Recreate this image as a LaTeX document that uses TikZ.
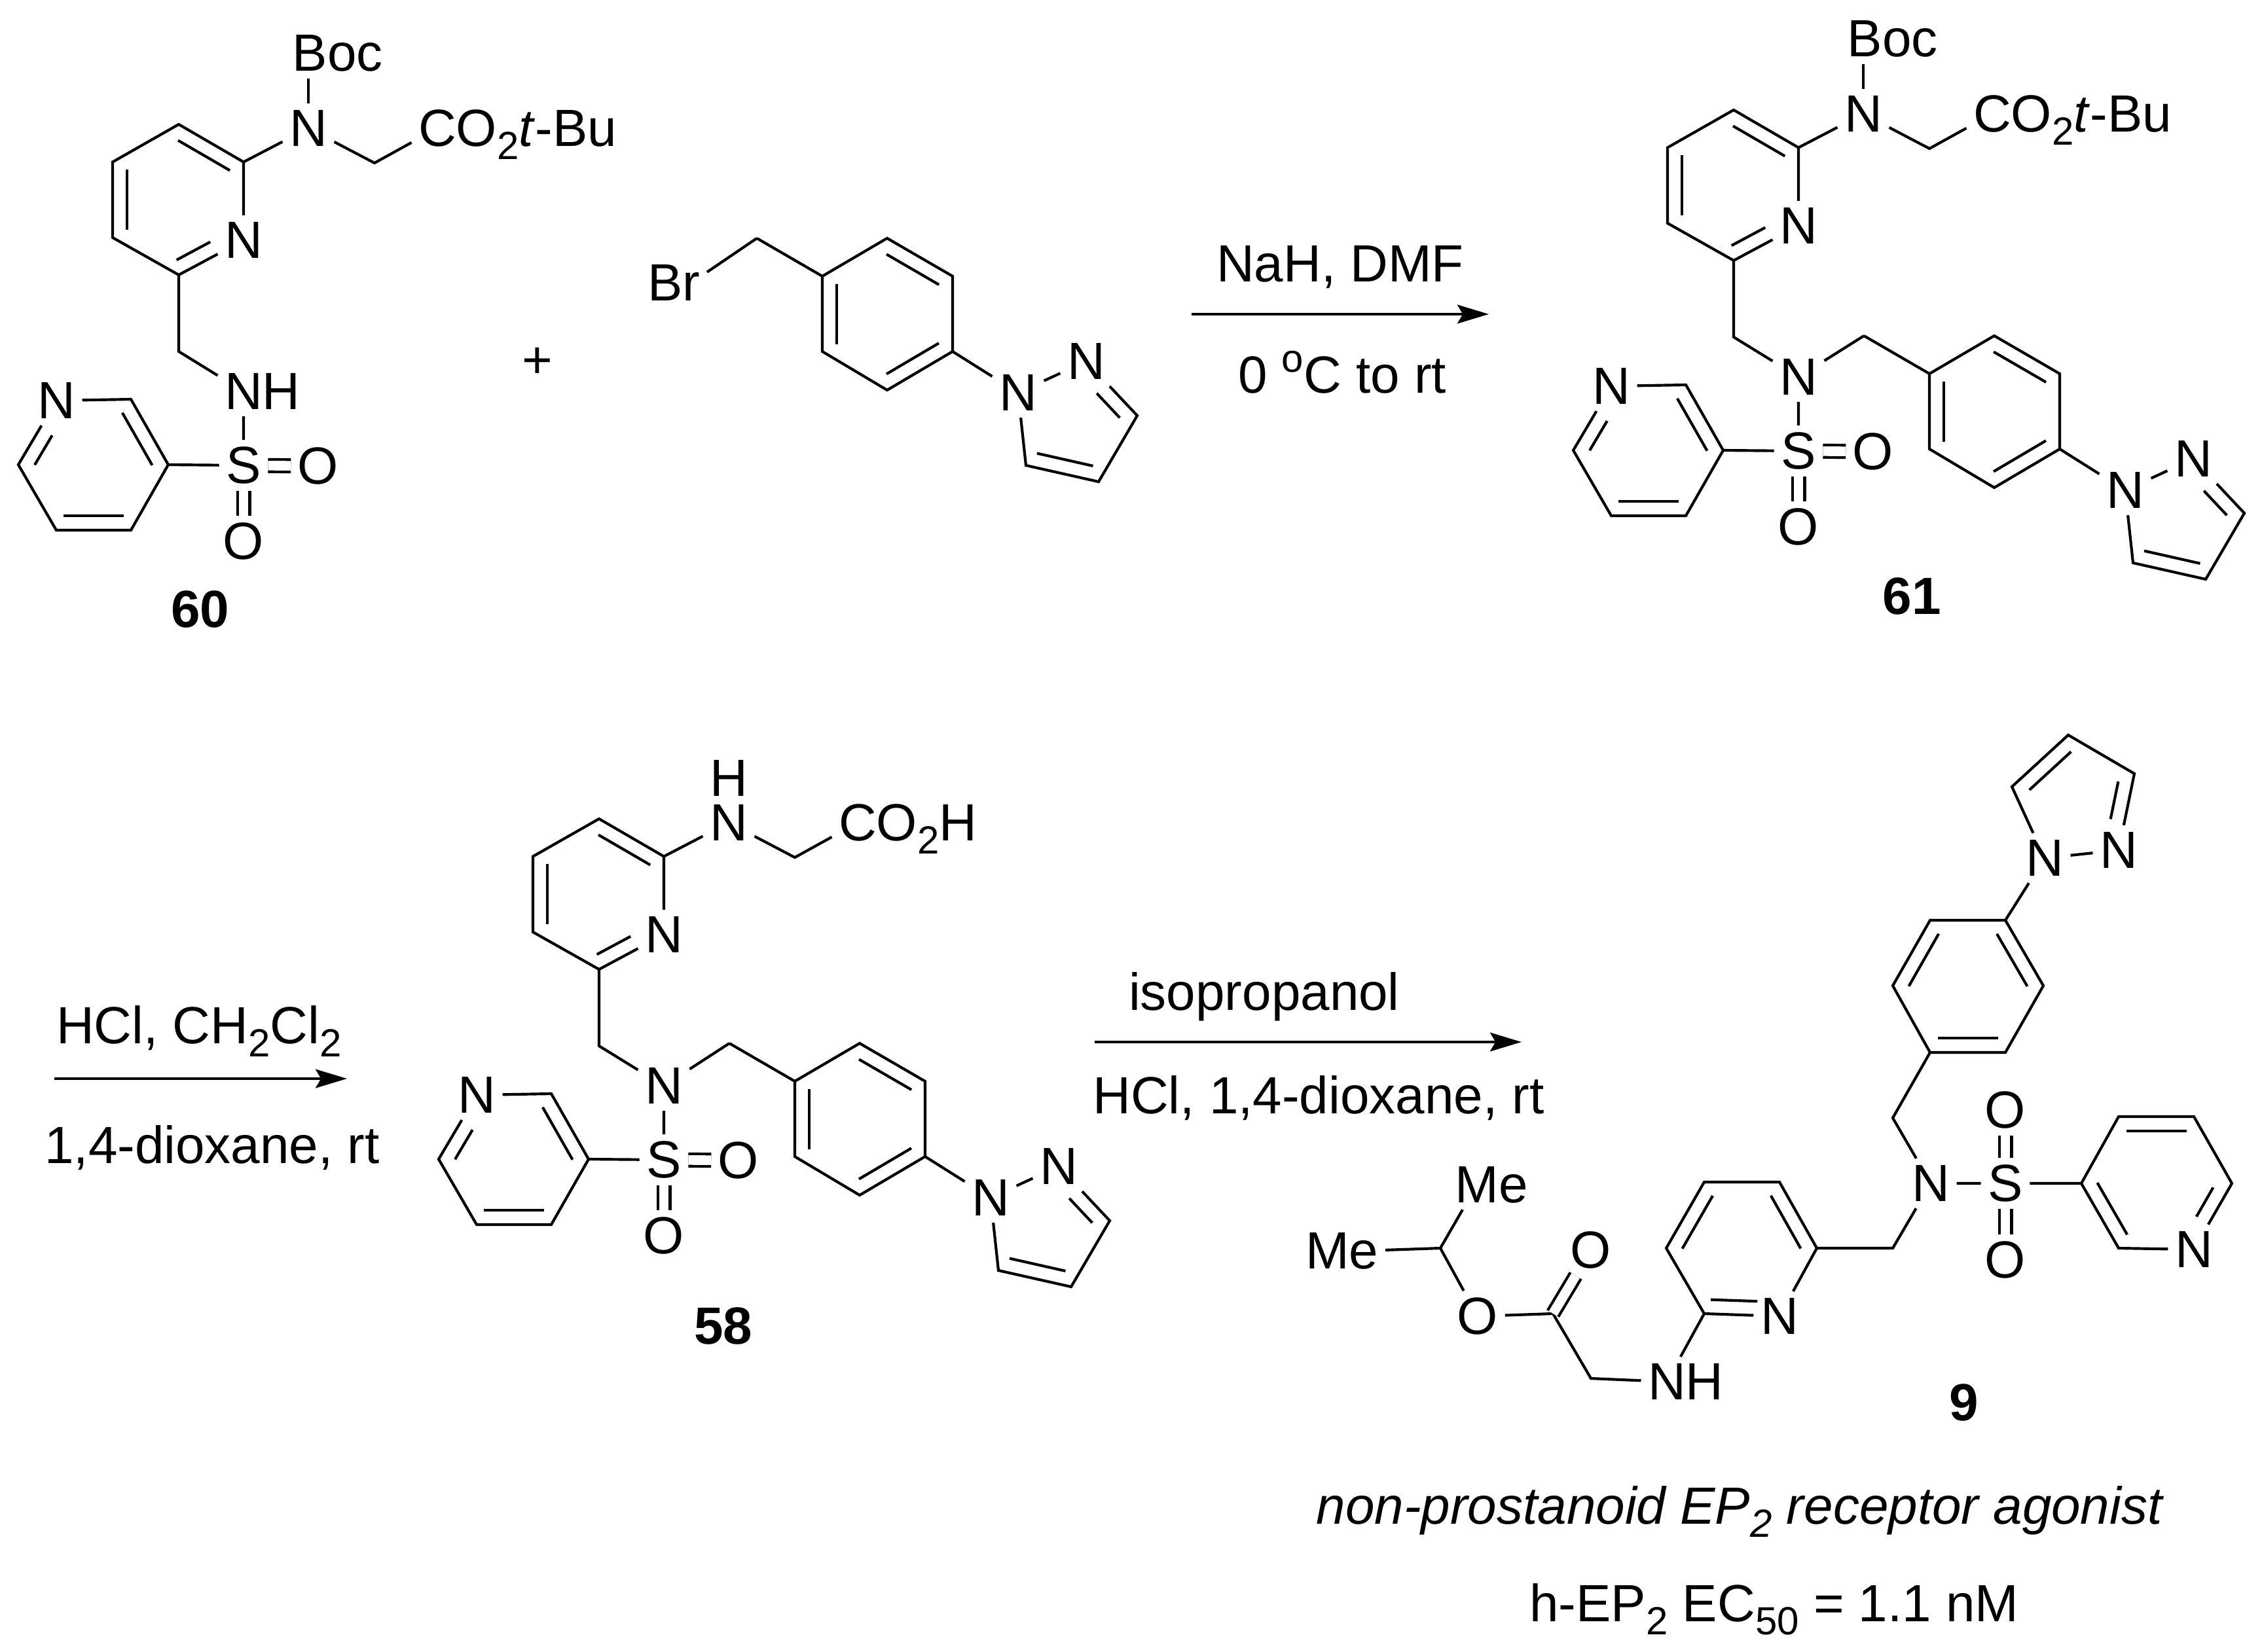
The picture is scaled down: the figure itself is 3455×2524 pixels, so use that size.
\documentclass[tikz,border=0pt]{standalone}
\usepackage{fontspec}
\setmainfont{Liberation Sans}
\usetikzlibrary{calc,arrows.meta}
\newcommand{\tailr}[1]{\smash{\rlap{#1}}}
\newcommand{\subnum}[1]{\raisebox{-6pt}{\fontsize{18}{18}\selectfont #1}}
\newcommand{\inbond}[4]{\draw[bond] ($(#1)!#3!(#2)!6.5pt!-90:(#2)$) -- ($(#1)!#4!(#2)!6.5pt!-90:(#2)$);}
\begin{document}
\begin{tikzpicture}[x=0.3pt,y=-0.3pt]
    \tikzstyle{atom}=[inner sep=3pt,font=\fontsize{24}{24}\selectfont]
    \tikzstyle{note}=[inner sep=0,anchor=base,font=\fontsize{24}{24}\selectfont]
    \tikzstyle{lab}=[inner sep=0,font=\fontsize{24}{24}\selectfont\bfseries]
    \tikzstyle{bond}=[line width=1.25pt]
    \tikzstyle{dbond}=[line width=1.25pt,double,double distance=4.4pt]
    \tikzstyle{rxn}=[line width=1.3pt,-{Stealth[length=14.4pt,width=8.6pt,inset=2.5pt]}]
    \useasboundingbox (0,0) rectangle (3455,2524);

    % pyridine, sulfonamide and side chain shared by 60, 61, 58
    \foreach \mol/\dx/\dy/\cen/\acid in {m60/0/0/{N\tailr{H}}/{C\tailr{O\subnum{2}\textit{t}-Bu}},
                                        m61/2375/-22/N/{C\tailr{O\subnum{2}\textit{t}-Bu}},
                                        m58/642/1061/N/{C\tailr{O\subnum{2}H}}} {
        \begin{scope}[shift={(\dx,\dy)},name prefix=\mol]
            \foreach \cn/\x/\y in {rt/273/190,rb/372/247.5,rd/273/420,rc/172/363,ra/172/247.5,
                                   gl/572/249,ch/273/537,
                                   sa/257/710,sb/200/610,sd/28/710,se/86/810,sf/200/810} {
                \coordinate (\cn) at (\x,\y);
            }
            \node[atom] (rN) at (372,367) {N};
            \node[atom] (am) at (471,196) {N};
            \node[atom] (acid) at (668,196) {\acid};
            \node[atom] (cen) at (372,598) {\cen};
            \node[atom] (sul) at (372,711) {S};
            \node[atom] (oa) at (486,712) {O};
            \node[atom] (ob) at (372,827) {O};
            \node[atom] (sN) at (86,612) {N};

            \draw[bond] (rN) -- (rb) -- (rt) -- (ra) -- (rc) -- (rd) -- (rN);
            \draw[bond] (rb) -- (am) (am) -- (gl) -- (acid) (rd) -- (ch) -- (cen) (cen) -- (sul) (sul) -- (sa);
            \draw[bond] (sN) -- (sb) -- (sa) -- (sf) -- (se) -- (sd) -- (sN);
            \draw[dbond] (sul) -- (oa);
            \draw[dbond] (sul) -- (ob);
            \inbond{rt}{rb}{.1}{.9}
            \inbond{rc}{ra}{.1}{.9}
            \inbond{rN}{rd}{.41}{.93}
            \inbond{sb}{sa}{.1}{.9}
            \inbond{sf}{se}{.1}{.9}
            \inbond{sd}{sN}{.11}{.57}
        \end{scope}
    }

    % Boc on 60 and 61
    \foreach \mol/\dx/\dy in {m60/0/0,m61/2375/-22} {
        \begin{scope}[shift={(\dx,\dy)},name prefix=\mol]
            \node[atom,anchor=west] (boc) at (436,81) {Boc};
            \draw[bond] (am) -- (boc.south -| am);
        \end{scope}
    }
    \node[atom] (m58H) at (1113,1189) {H};

    % benzyl and pyrazole
    \foreach \mol/\dx/\dy in {p0/0/0,p61/1691/149,p58/-42/1230} {
        \begin{scope}[shift={(\dx,\dy)},name prefix=\mol]
            \foreach \cn/\x/\y in {ch/1156/364,a/1256/422,b/1355/364,c/1455/422,d/1455/537,e/1355/596,f/1256/537,
                                   zc/1737/635,zd/1678/736,ze/1567/711} {
                \coordinate (\cn) at (\x,\y);
            }
            \node[atom] (zA) at (1555,600) {N};
            \node[atom] (zB) at (1659,552) {N};
            \draw[bond] (ch) -- (a) -- (b) -- (c) -- (d) -- (e) -- (f) -- (a);
            \draw[bond] (d) -- (zA) (zA) -- (zB) (zB) -- (zc) -- (zd) -- (ze) -- (zA);
            \inbond{b}{c}{.1}{.9}
            \inbond{d}{e}{.1}{.9}
            \inbond{f}{a}{.1}{.9}
            \inbond{zB}{zc}{.41}{.86}
            \inbond{zd}{ze}{.12}{.89}
        \end{scope}
    }
    \node[atom] (brm) at (1056,432) {\llap{B}r};
    \draw[bond] (brm) -- (p0ch);
    \draw[bond] (m61cen) -- (p61ch);
    \draw[bond] (m58cen) -- (p58ch);

    % compound 9
    \foreach \cn/\x/\y in {qd/3159/1123,qc/3260/1182,qe/3073/1202,
                           ba/3063/1406,bb/2948/1406,bc/2891/1506,bd/2948/1608,be/3063/1608,bf/3121/1506,
                           ua/2891/1708,ub/2891/1907,
                           ta/3179/1808,tb/3236/1706,tc/3351/1706,td/3409/1808,tf/3236/1907,
                           va/2775/1907,vb/2718/1806,vc/2603/1806,vd/2545/1907,ve/2603/2007,
                           gc/2430/2106,co/2372/2007,ip/2200/1907} {
        \coordinate (\cn) at (\x,\y);
    }
    \node[atom] (qA) at (3123,1311) {N};
    \node[atom] (qB) at (3236,1299) {N};
    \node[atom] (nc) at (2949,1808) {N};
    \node[atom] (sc) at (3063,1808) {S};
    \node[atom] (ou) at (3063,1696) {O};
    \node[atom] (od) at (3063,1925) {O};
    \node[atom] (tN) at (3351,1909) {N};
    \node[atom] (vN) at (2718,2011) {N};
    \node[atom] (nh) at (2546,2111) {N\tailr{H}};
    \node[atom] (oc) at (2430,1910) {O};
    \node[atom] (oe) at (2257,2011) {O};
    \node[atom] (mu) at (2256,1810) {M\tailr{e}};
    \node[atom] (ml) at (2083,1911) {\llap{M}e};

    \draw[bond] (qA) -- (qe) -- (qd) -- (qc) -- (qB) (qB) -- (qA) (qA) -- (ba);
    \draw[bond] (ba) -- (bb) -- (bc) -- (bd) -- (be) -- (bf) -- (ba);
    \draw[bond] (bd) -- (ua) -- (nc) (nc) -- (ub) -- (va) (nc) -- (sc) (sc) -- (ta);
    \draw[dbond] (sc) -- (ou);
    \draw[dbond] (sc) -- (od);
    \draw[bond] (ta) -- (tb) -- (tc) -- (td) -- (tN) (tN) -- (tf) -- (ta);
    \draw[bond] (va) -- (vb) -- (vc) -- (vd) -- (ve) -- (vN) (vN) -- (va) (ve) -- (nh);
    \draw[bond] (nh) -- (gc) -- (co) -- (oe) (oe) -- (ip) -- (mu) (ip) -- (ml);
    \draw[dbond] (co) -- (oc);
    \inbond{qe}{qd}{.14}{.88}
    \inbond{qc}{qB}{.14}{.63}
    \inbond{ba}{bf}{.1}{.9}
    \inbond{be}{bd}{.1}{.9}
    \inbond{bc}{bb}{.1}{.9}
    \inbond{tb}{tc}{.1}{.9}
    \inbond{td}{tN}{.17}{.61}
    \inbond{tf}{ta}{.1}{.9}
    \inbond{vb}{va}{.1}{.9}
    \inbond{vd}{vc}{.1}{.9}
    \inbond{vN}{ve}{.3}{.92}

    % reagents and arrows
    \node[lab] (plus) at (821,554) {\mdseries +};
    \coordinate (ar1a) at (1820,480);
    \coordinate (ar1b) at (2274,480);
    \coordinate (ar2a) at (83,1648);
    \coordinate (ar2b) at (530,1648);
    \coordinate (ar3a) at (1672,1592);
    \coordinate (ar3b) at (2324,1592);
    \draw[rxn] (ar1a) -- (ar1b);
    \draw[rxn] (ar2a) -- (ar2b);
    \draw[rxn] (ar3a) -- (ar3b);
    \node[note] (nah) at (2047,430) {NaH, DMF};
    \node[note] (tmp) at (2050,600) {0 \raisebox{9.5pt}{\fontsize{18}{18}\selectfont o}C to rt};
    \node[note] (hcl) at (304,1594) {HCl, CH\subnum{2}Cl\subnum{2}};
    \node[note] (dio) at (324,1777) {1,4-dioxane, rt};
    \node[note] (ipa) at (1931,1543) {isopropanol};
    \node[note] (hcd) at (2014,1701) {HCl, 1,4-dioxane, rt};

    % compound numbers
    \node[lab] (lab60) at (306,931) {60};
    \node[lab] (lab61) at (2920,911) {61};
    \node[lab] (lab58) at (1105,2026) {58};
    \node[lab] (lab9) at (3000,2143) {9};
    \node[note] (agon) at (2658,2328) {\textit{non-prostanoid EP\subnum{2} receptor agonist}};
    \node[note] (ec50) at (2710,2477) {h-EP\subnum{2} EC\subnum{50} = 1.1 nM};
\end{tikzpicture}
\end{document}
